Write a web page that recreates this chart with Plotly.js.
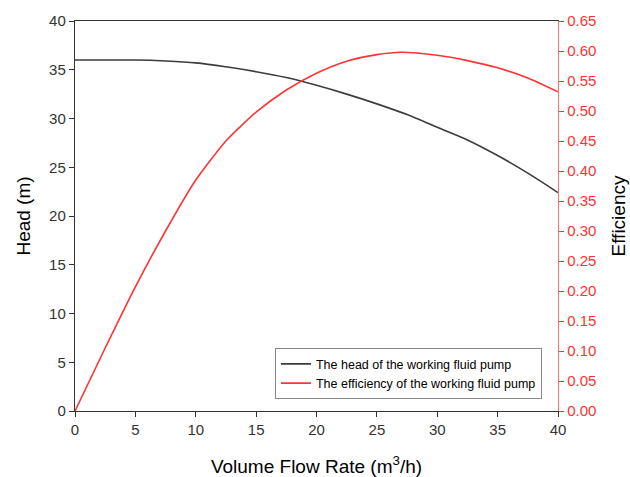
<!DOCTYPE html>
<html>
<head>
<meta charset="utf-8">
<script src="https://cdn.plot.ly/plotly-3.0.1.min.js"></script>
<style>html,body{margin:0;padding:0;background:#fff;}#chart{width:630px;height:477px;}</style>
</head>
<body>
<div id="chart"></div>
<script>
const flowRate = [0, 2.5, 5, 7.5, 10, 12.5, 15, 17.5, 20, 22.5, 25, 27.5, 30, 32.5, 35, 37.5, 40];
const headValues = [36, 36, 36, 35.9, 35.7, 35.3, 34.8, 34.2, 33.4, 32.5, 31.5, 30.4, 29.1, 27.8, 26.2, 24.4, 22.4];
const effFlow = [0, 2.5, 5, 7.5, 10, 12.5, 15, 17.5, 20, 22.5, 25, 27, 30, 32.5, 35, 37.5, 40];
const effValues = [0, 0.105, 0.207, 0.3, 0.385, 0.45, 0.498, 0.535, 0.563, 0.583, 0.594, 0.598, 0.593, 0.584, 0.572, 0.555, 0.532];
const headTicks = [0, 5, 10, 15, 20, 25, 30, 35, 40];
const effTicks = [0, 0.05, 0.1, 0.15, 0.2, 0.25, 0.3, 0.35, 0.4, 0.45, 0.5, 0.55, 0.6, 0.65];

const red = '#ff3333';
const fam = 'Liberation Sans, Arial, sans-serif';
const traces = [
  {x: flowRate, y: headValues, type: 'scatter', mode: 'lines', name: 'The head of the working fluid pump',
   line: {color: '#3c3c3c', width: 1.6, shape: 'spline'}},
  {x: effFlow, y: effValues, type: 'scatter', mode: 'lines', name: 'The efficiency of the working fluid pump',
   yaxis: 'y2', line: {color: red, width: 1.6, shape: 'spline', smoothing: 0.6}}
];
const tickFont = {family: fam, size: 15, color: '#333'};
const layout = {
  width: 630, height: 477,
  margin: {l: 75, r: 72, t: 21, b: 66},
  paper_bgcolor: '#fff', plot_bgcolor: '#fff',
  showlegend: true,
  legend: {x: 0.414, y: 0.03, xanchor: 'left', yanchor: 'bottom', bgcolor: '#fff', bordercolor: '#888', borderwidth: 1,
    font: {family: fam, size: 12.5, color: '#000'}, tracegroupgap: 0, itemwidth: 30},
  xaxis: {range: [0, 40], tickvals: headTicks, ticks: 'outside', ticklen: 5, tickcolor: '#333', showgrid: false, zeroline: false,
    showline: true, linecolor: '#333', linewidth: 1.2, mirror: true, tickfont: tickFont,
    title: {text: 'Volume Flow Rate (m<sup>3</sup>/h)', font: {family: fam, size: 19, color: '#000'}, standoff: 22}},
  yaxis: {range: [0, 40], tickvals: headTicks, ticks: 'outside', ticklen: 5, tickcolor: '#333', showgrid: false, zeroline: false,
    showline: true, linecolor: '#333', linewidth: 1.2, tickfont: tickFont,
    title: {text: 'Head (m)', font: {family: fam, size: 19, color: '#000'}, standoff: 13}},
  yaxis2: {range: [0, 0.65], tickvals: effTicks, tickformat: '.2f', overlaying: 'y', side: 'right', ticks: 'outside', ticklen: 5,
    tickcolor: red, showgrid: false, zeroline: false, showline: true, linecolor: '#ff7070', linewidth: 1.2,
    tickfont: {family: fam, size: 15, color: red},
    title: {text: 'Efficiency', font: {family: fam, size: 19, color: '#000'}, standoff: 16}}
};
Plotly.newPlot('chart', traces, layout, {displayModeBar: false, staticPlot: true});
</script>
</body>
</html>
